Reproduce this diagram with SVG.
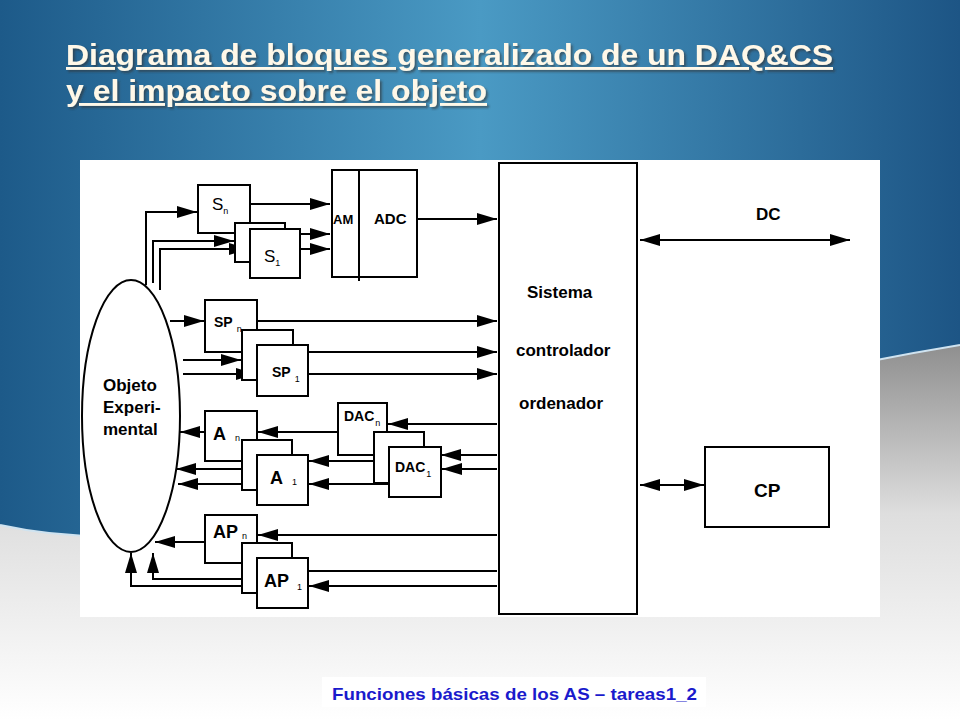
<svg xmlns="http://www.w3.org/2000/svg" width="960" height="720" viewBox="0 0 960 720">
<defs>
<linearGradient id="bg" x1="0" y1="0" x2="1" y2="0">
<stop offset="0" stop-color="#1d5a89"/><stop offset="0.5" stop-color="#4a9ac4"/><stop offset="1" stop-color="#1d5585"/>
</linearGradient>
<linearGradient id="gr" x1="0" y1="0" x2="0" y2="1">
<stop offset="0" stop-color="#8f8f8f"/><stop offset="0.45" stop-color="#dedede"/><stop offset="1" stop-color="#ffffff"/>
</linearGradient>
<filter id="sh" x="-5%" y="-20%" width="110%" height="150%">
<feDropShadow dx="2" dy="2" stdDeviation="1" flood-color="#333" flood-opacity="0.6"/>
</filter>
<marker id="b" viewBox="0 0 20 12" refX="20" refY="6" markerWidth="20" markerHeight="12" markerUnits="userSpaceOnUse" orient="auto-start-reverse">
<path d="M0,0 L20,6 L0,12 z" fill="#000"/>
</marker>
</defs>
<style>
.bx{fill:#fff;stroke:#000;stroke-width:2}
.ln{fill:none;stroke:#000;stroke-width:2}
.t{font-family:"Liberation Sans",Arial,sans-serif;font-weight:bold;fill:#000}
.n{font-family:"Liberation Sans",Arial,sans-serif;fill:#000}
</style>
<rect width="960" height="720" fill="url(#bg)"/>
<path d="M0,525 C250,580 500,420 960,345 L960,720 L0,720 z" fill="url(#gr)"/>
<path d="M0,525 C250,580 500,420 960,345" fill="none" stroke="#cfe3f0" stroke-width="2"/>
<g id="title" font-family="'Liberation Sans',Arial,sans-serif" font-weight="bold" font-size="29" fill="#fff8e8" text-decoration="underline" filter="url(#sh)">
<text x="66" y="65" textLength="767" lengthAdjust="spacingAndGlyphs">Diagrama de bloques generalizado de un DAQ&amp;CS</text>
<text x="66" y="101" textLength="421" lengthAdjust="spacingAndGlyphs">y el impacto sobre el objeto</text>
</g>
<rect x="80" y="160" width="800" height="457" fill="#fff"/>
<g id="footer"><rect x="322" y="677" width="384" height="30" fill="#fff"/>
<text x="332" y="700" font-family="'Liberation Sans',Arial,sans-serif" font-weight="bold" font-size="17" fill="#1a1acc" textLength="365" lengthAdjust="spacingAndGlyphs">Funciones básicas de los AS – tareas1_2</text></g>

<g id="connectors" class="ln">
<path d="M146,285 V212 H197" marker-end="url(#b)"/>
<path d="M153,283 V241 H234" marker-end="url(#b)"/>
<path d="M160,290 V249 H249" marker-end="url(#b)"/>
<path d="M250,204 H330" marker-end="url(#b)"/>
<path d="M285,234 H330" marker-end="url(#b)"/>
<path d="M300,249 H330" marker-end="url(#b)"/>
<path d="M417,219 H497" marker-end="url(#b)"/>
<path d="M640,240 H850" marker-start="url(#b)" marker-end="url(#b)"/>
<path d="M640,485 H704" marker-start="url(#b)" marker-end="url(#b)"/>
<path d="M170,321 H204" marker-end="url(#b)"/>
<path d="M183,360 H241" marker-end="url(#b)"/>
<path d="M183,374 H256" marker-end="url(#b)"/>
<path d="M257,321 H497" marker-end="url(#b)"/>
<path d="M308,352 H497" marker-end="url(#b)"/>
<path d="M308,374 H497" marker-end="url(#b)"/>
<path d="M497,424 H388" marker-end="url(#b)"/>
<path d="M497,455 H441" marker-end="url(#b)"/>
<path d="M497,469 H442" marker-end="url(#b)"/>
<path d="M338,432 H258" marker-end="url(#b)"/>
<path d="M374,461 H309" marker-end="url(#b)"/>
<path d="M389,484 H309" marker-end="url(#b)"/>
<path d="M205,432 H180" marker-end="url(#b)"/>
<path d="M242,469 H176" marker-end="url(#b)"/>
<path d="M242,484 H178" marker-end="url(#b)"/>
<path d="M497,535 H258" marker-end="url(#b)"/>
<path d="M308,571 H497"/>
<path d="M497,586 H309" marker-end="url(#b)"/>
<path d="M205,542 H155" marker-end="url(#b)"/>
<path d="M242,579 H153 V553" marker-end="url(#b)"/>
<path d="M257,586 H131 V553" marker-end="url(#b)"/>
</g>

<g id="objeto"><ellipse cx="131" cy="416" rx="49" ry="136" class="bx" stroke-width="1.5"/>
<text class="t" font-size="17" x="103" y="391">Objeto</text>
<text class="t" font-size="17" x="103" y="413">Experi-</text>
<text class="t" font-size="17" x="103" y="435">mental</text></g>

<g id="S"><rect class="bx" x="198" y="185" width="52" height="48"/>
<rect class="bx" x="235" y="223" width="50" height="39"/>
<rect class="bx" x="250" y="229" width="50" height="49"/>
<text class="n" font-size="17" x="212" y="210">S<tspan font-size="9" dy="4">n</tspan></text>
<text class="n" font-size="17" x="264" y="262">S<tspan font-size="9" dy="4">1</tspan></text></g>

<g id="AMADC"><rect class="bx" x="332" y="170" width="85" height="107"/>
<line class="ln" x1="359" y1="170" x2="359" y2="281"/>
<text class="t" font-size="13" x="333" y="224">AM</text>
<text class="t" font-size="15" x="374" y="224">ADC</text></g>

<g id="SP"><rect class="bx" x="205" y="300" width="52" height="52"/>
<rect class="bx" x="242" y="330" width="51" height="50"/>
<rect class="bx" x="257" y="345" width="51" height="51"/>
<text class="t" font-size="14" x="214" y="327">SP<tspan font-weight="normal" font-size="9" dx="4" dy="5">n</tspan></text>
<text class="t" font-size="14" x="272" y="377">SP<tspan font-weight="normal" font-size="9" dx="4" dy="5">1</tspan></text></g>

<g id="A"><rect class="bx" x="205" y="411" width="52" height="50"/>
<rect class="bx" x="242" y="440" width="50" height="50"/>
<rect class="bx" x="257" y="455" width="51" height="50"/>
<text class="t" font-size="18" x="213" y="440">A<tspan font-weight="normal" font-size="9" dx="9" dy="1">n</tspan></text>
<text class="t" font-size="18" x="270" y="484">A<tspan font-weight="normal" font-size="9" dx="9" dy="1">1</tspan></text></g>

<g id="DAC"><rect class="bx" x="338" y="403" width="49" height="52"/>
<rect class="bx" x="374" y="432" width="50" height="51"/>
<rect class="bx" x="389" y="447" width="52" height="50"/>
<text class="t" font-size="14" x="344" y="421">DAC<tspan font-weight="normal" font-size="9" dx="1" dy="5">n</tspan></text>
<text class="t" font-size="14" x="395" y="472">DAC<tspan font-weight="normal" font-size="9" dx="1" dy="5">1</tspan></text></g>

<g id="AP"><rect class="bx" x="205" y="515" width="52" height="48"/>
<rect class="bx" x="242" y="543" width="50" height="50"/>
<rect class="bx" x="257" y="558" width="51" height="50"/>
<text class="t" font-size="18" x="213" y="538">AP<tspan font-weight="normal" font-size="9" dx="4" dy="1">n</tspan></text>
<text class="t" font-size="18" x="264" y="587">AP<tspan font-weight="normal" font-size="9" dx="8" dy="3">1</tspan></text></g>

<g id="sistema"><rect class="bx" x="499" y="163" width="138" height="451"/>
<text class="t" font-size="17" x="527" y="298">Sistema</text>
<text class="t" font-size="17" x="516" y="356">controlador</text>
<text class="t" font-size="17" x="519" y="409">ordenador</text></g>

<g id="DC"><text class="t" font-size="17" x="756" y="220">DC</text></g>
<g id="CP"><rect class="bx" x="705" y="447" width="124" height="80"/>
<text class="t" font-size="19" x="754" y="497">CP</text></g>
</svg>
